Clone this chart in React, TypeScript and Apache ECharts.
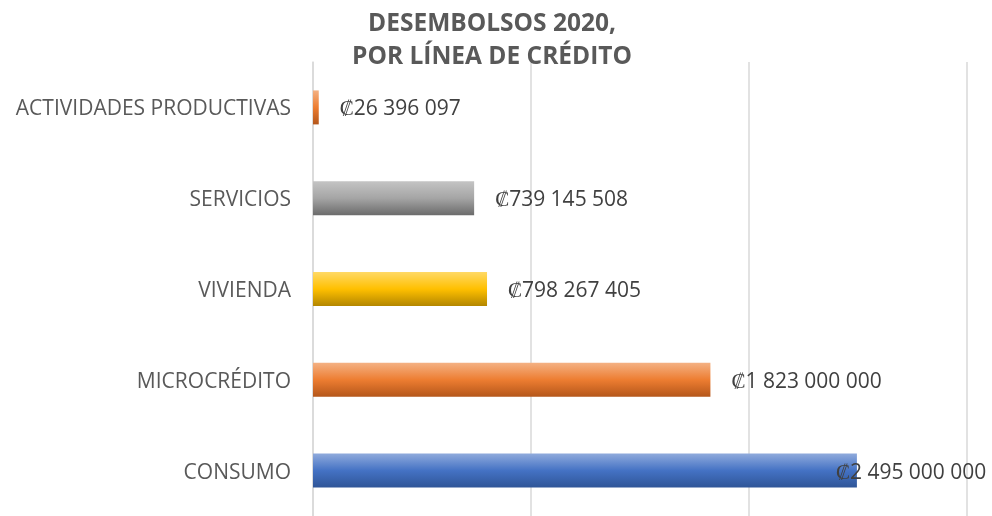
import React, { useEffect, useRef } from "react";
import * as echarts from "echarts";

const categories = ["CONSUMO", "MICROCRÉDITO", "VIVIENDA", "SERVICIOS", "ACTIVIDADES PRODUCTIVAS"];
const values = [2495000000, 1823000000, 798267405, 739145508, 26396097];
const gradients = [
  ["#8faadc", "#4472c4", "#2f5597"],
  ["#f4b183", "#ed7d31", "#b4561a"],
  ["#ffd966", "#ffc000", "#b38600"],
  ["#c4c4c4", "#a5a5a5", "#6b6b6b"],
  ["#f4b183", "#ed7d31", "#b4561a"],
];
const titleText = "DESEMBOLSOS 2020,\nPOR LÍNEA DE CRÉDITO";

const fmt = (v: number) => "₡" + String(Math.round(v)).replace(/\B(?=(\d{3})+(?!\d))/g, " ");

export default function App() {
  const ref = useRef<HTMLDivElement>(null);
  useEffect(() => {
    const chart = echarts.init(ref.current!, null, { renderer: "svg" });
    const data = values.map((v, i) => ({
      value: v,
      itemStyle: {
        color: new echarts.graphic.LinearGradient(0, 0, 0, 1, [
          { offset: 0, color: gradients[i][0] },
          { offset: 0.5, color: gradients[i][1] },
          { offset: 1, color: gradients[i][2] },
        ]),
      },
      label: i === 0 ? { distance: -21 } : { distance: 21 },
    }));
    chart.setOption({
      animation: false,
      title: {
        text: titleText,
        left: 487,
        textAlign: "center",
        top: 0,
        textStyle: {
          fontFamily: "Open Sans",
          fontWeight: "bold",
          fontSize: 24.5,
          lineHeight: 33,
          color: "#595959",
        },
      },
      grid: { left: 313, right: 25, top: 62, bottom: -5, containLabel: false },
      xAxis: {
        type: "value",
        min: 0,
        max: 3000000000,
        interval: 1000000000,
        axisLabel: { show: false },
        axisLine: { show: false },
        axisTick: { show: false },
        splitLine: { lineStyle: { color: "#d9d9d9", width: 1.5 } },
      },
      yAxis: {
        type: "category",
        data: categories,
        axisLine: { show: true, lineStyle: { color: "#d9d9d9", width: 1.5 } },
        axisTick: { show: false },
        axisLabel: {
          color: "#595959",
          fontFamily: "Open Sans",
          fontSize: 21,
          margin: 22,
        },
      },
      series: [
        {
          type: "bar",
          data,
          barWidth: 34,
          label: {
            show: true,
            position: "right",
            formatter: (p: any) => fmt(p.value),
            color: "#404040",
            fontFamily: "Open Sans",
            fontSize: 21,
          },
        },
      ],
    });
    return () => chart.dispose();
  }, []);
  return <div ref={ref} style={{ position: "fixed", left: 0, top: 0, width: 992, height: 516 }} />;
}
